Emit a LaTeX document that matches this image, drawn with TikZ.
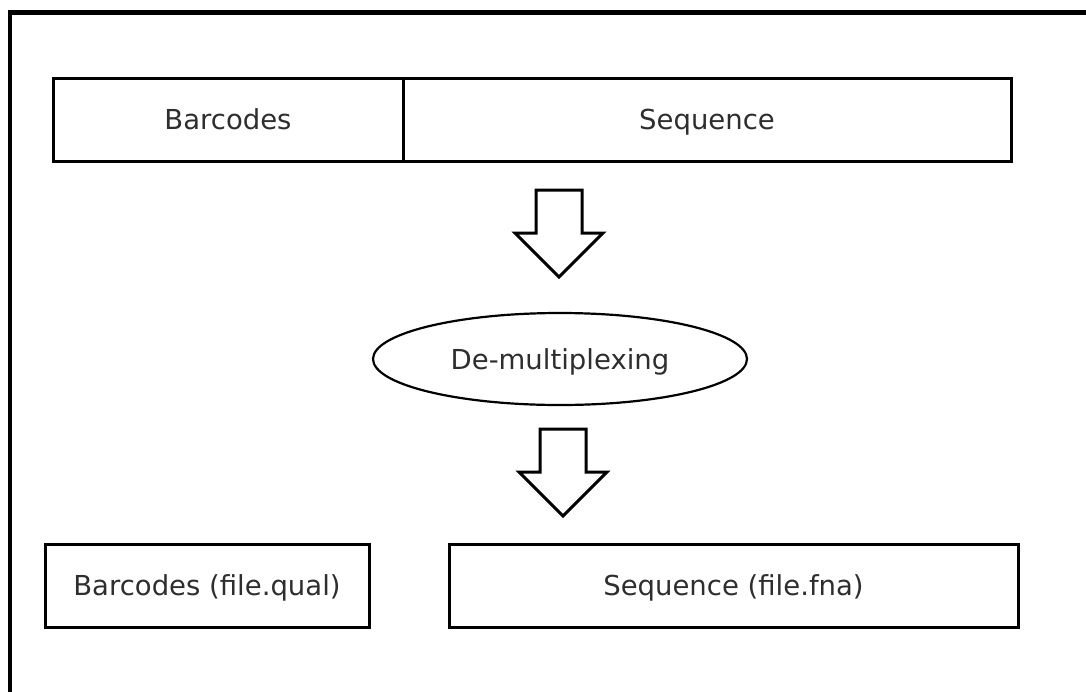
\documentclass[tikz,border=0pt]{standalone}
\usepackage{fontspec}
\setmainfont{DejaVu Sans}
\usetikzlibrary{shapes.geometric}
\tikzset{
  label text/.style={text=black!82, font=\fontsize{27.5}{32}\selectfont,
    text height=20pt, text depth=0pt},
  box/.style={draw=black, line width=3pt, rectangle, inner sep=0pt, outer sep=0pt,
    label text},
  oval/.style={draw=black, line width=2.2pt, ellipse, inner sep=0pt,
    label text, minimum width=374pt, minimum height=92pt},
  frameline/.style={line width=4.5pt, line cap=rect},
  pics/blockarrow/.style={code={
    % hollow downward block arrow, origin at the top centre of its stem
    \draw[line width=3pt, line join=miter, fill=white]
      (-23,0) -- (23,0) -- (23,43) -- (44,43) -- (0,87)
      -- (-44,43) -- (-23,43) -- cycle;
  }}
}
\begin{document}
\begin{tikzpicture}[x=1pt, y=-1pt]
  \useasboundingbox (0,0) rectangle (1086,691);
  % frame edges
  \draw[frameline] (10,691) -- (10,12.5) -- (1090,12.5);

  % input record: barcode part followed by sequence part, sharing one edge
  \node[box, minimum width=350pt, minimum height=83pt] (bc) at (228,119.5) {Barcodes};
  \node[box, minimum width=608pt, minimum height=83pt, anchor=west] (seq) at (bc.east) {Sequence};

  % processing step
  \node[oval] (demux) at (560,359) {De-multiplexing};

  % output files
  \node[box, minimum width=324pt, minimum height=83pt] (qual) at (207,585.5) {Barcodes (file.qual)};
  \node[box, minimum width=569pt, minimum height=83pt] (fna) at (733.5,585.5) {Sequence (file.fna)};

  % block arrows between the stages
  \coordinate (a1) at (559,190);
  \coordinate (a2) at (563,429);
  \pic at (a1) {blockarrow};
  \pic at (a2) {blockarrow};
\end{tikzpicture}
\end{document}
